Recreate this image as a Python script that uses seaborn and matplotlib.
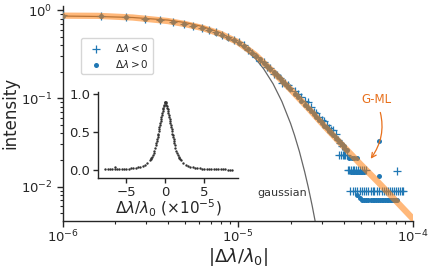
import numpy as np
import pandas as pd
import seaborn as sns
from matplotlib import pyplot as plt

sns.set_theme(style="ticks")
plt.rcParams["font.family"] = ["DejaVu Sans"]
plt.rcParams["mathtext.fontset"] = "dejavusans"

# G-ML fit
gml_x = [0.9e-6, 1.0e-6, 1.585e-6, 2.512e-6, 3.162e-6, 3.981e-6, 5.012e-6, 6.310e-6, 7.943e-6,
         1.0e-5, 1.259e-5, 1.585e-5, 1.995e-5, 2.512e-5, 3.162e-5, 3.981e-5, 5.012e-5,
         6.310e-5, 7.943e-5, 1.0e-4, 1.1e-4]
gml_y = [0.864, 0.863, 0.859, 0.822, 0.785, 0.750, 0.692, 0.624, 0.537,
         0.432, 0.309, 0.200, 0.126, 0.0776, 0.0468, 0.0288, 0.0178,
         0.0112, 0.00692, 0.00427, 0.0035]

# gaussian
gauss_x = [1e-6, 1.585e-6, 2.512e-6, 3.981e-6, 5.012e-6, 6.31e-6, 7.943e-6, 1e-5, 1.259e-5,
           1.4e-5, 1.585e-5, 1.778e-5, 1.995e-5, 2.1e-5, 2.239e-5, 2.4e-5, 2.512e-5, 2.65e-5,
           2.754e-5, 2.9e-5]
gauss_y = [0.854, 0.845, 0.822, 0.769, 0.720, 0.649, 0.551, 0.425, 0.281,
           0.2156, 0.146, 0.0923, 0.0518, 0.0382, 0.0250, 0.0147, 0.00998, 0.00604,
           0.00406, 0.00226]

# data, |dlambda/lambda0| in units of 1e-6
neg_x = [1.0, 1.65, 2.3, 2.95, 3.6, 4.25, 4.9, 5.55, 6.2, 6.85, 7.5, 8.15, 8.8, 9.45, 10.1,
         10.75, 11.4, 12.05, 12.7, 13.35, 14.0, 14.65, 15.3, 15.95, 16.6, 17.25, 17.9, 18.55,
         19.2, 19.85,
         21, 22, 23, 24, 25, 26, 27, 28, 29, 30, 31, 32, 33, 34, 35, 36,
         37, 37.5, 38, 38.5, 39, 39.5, 40, 41, 42,
         42.4, 43.2, 44.0, 45.0, 46.0, 47.0, 48.2, 49.5, 51.0, 52.5, 54.0,
         80.7,
         43.5, 45, 46.5, 48, 49.5, 51, 52.5, 54, 55.5, 57, 58.5, 60, 62, 64, 66, 68, 70, 72,
         74, 76, 78, 80, 82, 84, 86, 87.3]
neg_y = [0.87, 0.86, 0.83, 0.80, 0.77, 0.74, 0.70, 0.66, 0.63, 0.60, 0.56, 0.52, 0.49, 0.46,
         0.43, 0.40, 0.35, 0.33, 0.29, 0.265, 0.255, 0.225, 0.22, 0.19, 0.185, 0.172, 0.150,
         0.150, 0.140, 0.131,
         0.120, 0.112, 0.104, 0.093, 0.090, 0.079, 0.070, 0.069, 0.062, 0.057, 0.056, 0.050,
         0.046, 0.044, 0.044, 0.039,
         0.0335, 0.0228, 0.031, 0.0228, 0.0285, 0.0228, 0.0228, 0.0228, 0.0228,
         0.0154, 0.0154, 0.0154, 0.0154, 0.0154, 0.0154, 0.0154, 0.0154, 0.0154, 0.0154, 0.0154,
         0.0150,
         0.0089, 0.0089, 0.0089, 0.0089, 0.0089, 0.0089, 0.0089, 0.0089, 0.0089, 0.0089, 0.0089,
         0.0089, 0.0089, 0.0089, 0.0089, 0.0089, 0.0089, 0.0089, 0.0089, 0.0089, 0.0089, 0.0089,
         0.0089, 0.0089, 0.0089, 0.0089]

pos_x = [1.0, 1.65, 2.3, 2.95, 3.6, 4.25, 4.9, 5.55, 6.2, 6.85, 7.5, 8.15, 8.8, 9.45, 10.1,
         10.75, 11.4, 12.05, 12.7, 13.35, 14.0, 14.65, 15.3, 15.95, 16.6, 17.25, 17.9, 18.55,
         19.2, 19.85,
         21, 22, 23, 24, 25, 26, 27, 28, 29, 30, 31, 32, 33, 34, 35, 36, 37, 38, 39, 40, 41, 42,
         43, 44.5, 46, 47.5,
         44, 45, 46, 47, 48, 49, 50, 51, 52,
         63.8, 63.8,
         48, 49.5,
         51, 52.5, 54, 55.5, 57, 58.5, 60, 61.5, 63, 64.5, 66, 67.5, 69, 70.5, 72, 73.5, 75,
         76.5, 78, 79.5, 80.7]
pos_y = [0.86, 0.855, 0.83, 0.795, 0.765, 0.73, 0.695, 0.66, 0.63, 0.59, 0.555, 0.525, 0.485,
         0.455, 0.425, 0.39, 0.36, 0.33, 0.305, 0.278, 0.252, 0.233, 0.212, 0.197, 0.182, 0.168,
         0.157, 0.146, 0.136, 0.127,
         0.113, 0.103, 0.093, 0.085, 0.078, 0.072, 0.066, 0.061, 0.057, 0.0525, 0.049, 0.0455,
         0.043, 0.040, 0.038, 0.0355, 0.0335, 0.032, 0.030, 0.0285, 0.027, 0.026,
         0.0211, 0.0211, 0.0211, 0.0211,
         0.0145, 0.0145, 0.0145, 0.0145, 0.0145, 0.0145, 0.0145, 0.0145, 0.0145,
         0.0331, 0.0133,
         0.0080, 0.0075,
         0.00705, 0.00705, 0.00705, 0.00705, 0.00705, 0.00705, 0.00705, 0.00705, 0.00705,
         0.00705, 0.00705, 0.00705, 0.00705, 0.00705, 0.00705, 0.00705, 0.00705, 0.00705,
         0.00705, 0.00705, 0.00705]

# inset spectrum profile, |dlambda/lambda0| in units of 1e-5
prof_abs = [0.0, 0.05, 0.1, 0.15, 0.2, 0.25, 0.3, 0.35, 0.4, 0.45, 0.5, 0.55, 0.6, 0.65, 0.7,
            0.75, 0.8, 0.85, 0.9, 0.95, 1.0, 1.05, 1.1, 1.15, 1.2, 1.3, 1.4, 1.5, 1.6, 1.7,
            1.8, 1.9, 2.0, 2.3, 2.6, 2.9, 3.2, 3.5, 3.8, 4.1, 4.4, 4.7, 5.0, 5.3, 5.6, 5.9,
            6.2, 6.5, 6.8, 7.1, 7.4, 7.7, 8.0, 8.3, 8.6]
prof_val = [0.89, 0.885, 0.87, 0.855, 0.84, 0.817, 0.794, 0.771, 0.748, 0.72, 0.692, 0.665,
            0.638, 0.61, 0.583, 0.558, 0.533, 0.505, 0.477, 0.455, 0.432, 0.404, 0.377, 0.354,
            0.331, 0.291, 0.253, 0.222, 0.196, 0.174, 0.155, 0.139, 0.125, 0.093, 0.072, 0.057,
            0.046, 0.038, 0.032, 0.027, 0.023, 0.020, 0.018, 0.016, 0.014, 0.012, 0.011, 0.010,
            0.009, 0.009, 0.008, 0.008, 0.007, 0.007, 0.007]
left_end = 7.9
spike_x, spike_y = -6.45, 0.035

neg = pd.DataFrame({"x": np.array(neg_x) * 1e-6, "y": neg_y})
pos = pd.DataFrame({"x": np.array(pos_x) * 1e-6, "y": pos_y})

ins_x, ins_y = [], []
for a, v in zip(prof_abs[::-1], prof_val[::-1]):
    if a <= left_end and a > 0:
        ins_x.append(-a)
        ins_y.append(v)
for a, v in zip(prof_abs, prof_val):
    ins_x.append(a)
    ins_y.append(v)
ins_x.append(spike_x)
ins_y.append(spike_y)
inset = pd.DataFrame({"x": ins_x, "y": ins_y})

orange = "#e8701c"

fig = plt.figure(figsize=(4.36, 2.68), dpi=100)
ax = fig.add_axes([0.1438, 0.1765, 0.8042, 0.8011])
ax.set_xscale("log")
ax.set_yscale("log")

sns.lineplot(x=gauss_x, y=gauss_y, color="0.4", lw=0.9, sort=False, estimator=None, ax=ax)
sns.scatterplot(data=neg, x="x", y="y", marker="+", s=30, color="#1f77b4", linewidth=0.9,
                label=r"$\Delta\lambda < 0$", ax=ax, zorder=3)
sns.scatterplot(data=pos, x="x", y="y", marker="o", s=13, color="#1f77b4", linewidth=0,
                label=r"$\Delta\lambda > 0$", ax=ax, zorder=3)
sns.lineplot(x=gml_x, y=gml_y, color="#ff7f0e", lw=4.5, alpha=0.55, sort=False, estimator=None,
             ax=ax, zorder=4)

ax.set_xlim(1e-6, 1e-4)
ax.set_ylim(0.00411, 1.11)
ax.set_xlabel(r"$|\Delta\lambda/\lambda_0|$", fontsize=13, labelpad=0)
ax.set_ylabel("intensity", fontsize=12, labelpad=1)
ax.tick_params(labelsize=9.5, width=1, length=4)
ax.tick_params(axis="x", pad=2)
ax.tick_params(which="minor", width=0.8, length=2.5)
for s in ax.spines.values():
    s.set_linewidth(1)

ax.legend(loc="upper left", bbox_to_anchor=(0.052, 0.851), fontsize=7.5, handletextpad=0.9,
          borderpad=0.4, labelspacing=0.35, borderaxespad=0)

ax.annotate("G-ML", xy=(5.59e-5, 0.0195), xytext=(6.12e-5, 0.0957), ha="center", va="center",
            fontsize=8.5, color=orange,
            arrowprops=dict(arrowstyle="->", color=orange, lw=0.9,
                            connectionstyle="arc3,rad=-0.3"))
ax.text(2.475e-5, 0.00853, "gaussian", ha="right", va="center", fontsize=8, color="0.2")
sns.despine(ax=ax)

axin = fig.add_axes([0.2241, 0.3347, 0.3225, 0.3220])
sns.scatterplot(data=inset, x="x", y="y", s=3, color="0.2", linewidth=0, ax=axin)
axin.set_xlim(-8.67, 9.36)
axin.set_ylim(-0.108, 1.02)
axin.set_xticks([-5, 0, 5])
axin.set_yticks([0.0, 0.5, 1.0])
axin.set_xlabel(r"$\Delta\lambda/\lambda_0$ ($\times10^{-5}$)", fontsize=11, labelpad=-1)
axin.set_ylabel("")
axin.tick_params(labelsize=9.5, width=1, length=3.5, pad=2)
for s in axin.spines.values():
    s.set_linewidth(1)
sns.despine(ax=axin)

plt.savefig("out.png", dpi=100)
